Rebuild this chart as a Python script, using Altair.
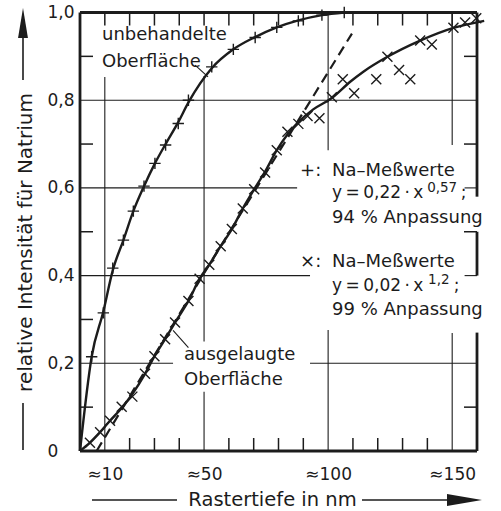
import altair as alt
import pandas as pd

FONT = "DejaVu Sans"
INK = "#1c1c1c"

# ---------------- values ----------------
# "+" measurements (unbehandelte Oberfläche)
plus_x = [4.7, 9.4, 13.2, 17.5, 21.5, 25.8, 30.2, 34.5, 39.6, 43.7, 53.1, 61.8, 70.6, 79.3, 88.0, 97.5, 106.5]
plus_y = [0.215, 0.315, 0.417, 0.481, 0.547, 0.604, 0.656, 0.698, 0.747, 0.800, 0.876, 0.916, 0.943, 0.966, 0.981, 0.994, 1.0]

# fitted curve through the "+" values
plus_fit_x = [0.0, 4.7, 9.4, 13.2, 17.5, 21.5, 25.8, 30.2, 34.5, 39.6, 43.7, 53.1, 61.8, 70.6, 79.3, 88.0, 97.5, 106.5]
plus_fit_y = [0.0, 0.215, 0.318, 0.412, 0.481, 0.547, 0.604, 0.656, 0.700, 0.750, 0.795, 0.873, 0.916, 0.944, 0.966, 0.982, 0.994, 1.0]

# "x" measurements (ausgelaugte Oberfläche)
cross_x = [4.0, 8.1, 12.1, 16.8, 21.1, 26.2, 30.0, 34.3, 38.3, 43.7, 48.2, 52.1, 56.7, 61.2, 65.6, 70.2,
           74.6, 79.3, 83.6, 88.0, 91.7, 96.5, 101.5, 105.9, 110.5, 119.4, 123.9, 128.6, 133.1, 137.1,
           141.8, 150.5, 155.2, 159.7]
cross_y = [0.019, 0.043, 0.069, 0.101, 0.124, 0.176, 0.216, 0.255, 0.293, 0.342, 0.393, 0.425, 0.467, 0.506,
           0.553, 0.597, 0.635, 0.686, 0.728, 0.746, 0.764, 0.759, 0.807, 0.848, 0.816, 0.848, 0.899, 0.869,
           0.848, 0.936, 0.927, 0.965, 0.977, 0.987]

# fitted curve through the "x" values
cross_fit_x = [0.0, 4.0, 8.1, 12.1, 16.8, 21.1, 26.2, 30.0, 34.3, 38.3, 43.7, 48.2, 52.1, 56.7, 61.2, 65.6,
               70.2, 74.6, 79.3, 83.6, 88.0, 94.0, 101.5, 108.9, 114.2, 123.9, 137.1, 150.5, 162.9]
cross_fit_y = [0.0, 0.019, 0.043, 0.069, 0.098, 0.130, 0.176, 0.216, 0.255, 0.293, 0.342, 0.393, 0.425, 0.467,
               0.506, 0.553, 0.597, 0.637, 0.686, 0.722, 0.750, 0.779, 0.805, 0.842, 0.865, 0.899, 0.936,
               0.965, 0.981]

# dashed straight fit
dash_x = [6.7, 52.1, 109.6]
dash_y = [0.0, 0.425, 0.952]

# axis label values
x_label_values = [10, 50, 100, 150]
y_label_values = [0, 0.2, 0.4, 0.6, 0.8, 1.0]
x_minor_bottom = [20, 30, 40, 60, 70, 80, 90, 110, 120, 130, 140]
x_minor_top = [10, 20, 30, 40, 50, 60, 70, 80, 90, 110, 120, 130, 140, 150]
y_minor_left = [0.1, 0.3, 0.5, 0.7, 0.9]
y_minor_right = [0.1, 0.5, 0.7, 0.9]

# texts
y_title = "relative Intensität für Natrium"
x_title = "Rastertiefe in nm"
TS = "\u2009"
ann_text = ["unbehandelte", "Oberfläche", "ausgelaugte", "Oberfläche",
            "+:", "Na–Meßwerte", f"y{TS}={TS}0,22{TS}·{TS}x", ";", "94 % Anpassung",
            "×:", "Na–Meßwerte", f"y{TS}={TS}0,02{TS}·{TS}x", ";", "99 % Anpassung"]
ann_x = [8.87, 8.87, 41.9, 41.9, 88.7, 101.6, 101.6, 153.5, 101.6, 88.7, 101.6, 101.6, 150.6, 101.6]
ann_y = [0.937, 0.876, 0.2075, 0.1505, 0.627, 0.627, 0.577, 0.577, 0.519, 0.4196, 0.4196, 0.365, 0.365, 0.310]
ann_size = [18, 18, 18, 18, 18, 18, 17, 17, 18, 18, 18, 17, 17, 18]
sup_text = ["0,57", "1,2"]
sup_x = [139.9, 140.3]
sup_y = [0.590, 0.381]

# ---------------- layout ----------------
W, H = 397, 438.5
XMAX = 160
xs = alt.Scale(domain=[0, XMAX], nice=False, zero=False)
ys = alt.Scale(domain=[0, 1], nice=False, zero=False)

XA = alt.Axis(values=x_label_values, labelExpr="'≈' + datum.value", labelFont=FONT,
              labelFontSize=17, labelColor=INK, labelPadding=15, ticks=False, tickSize=0,
              domain=False, grid=False, title=None, labelFlush=False)
YA = alt.Axis(values=y_label_values,
              labelExpr="datum.value == 0 ? '0' : replace(format(datum.value, '.1f'), '.', ',')",
              labelFont=FONT, labelFontSize=17, labelColor=INK, labelAlign="left", labelPadding=33,
              ticks=False, tickSize=0, domain=False, grid=False, title=None)


def X(f):
    return alt.X(f, scale=xs, axis=XA)


def Y(f):
    return alt.Y(f, scale=ys, axis=YA)


# gridline segments (data units)
hg = pd.DataFrame({
    "y": [0.8, 0.6, 0.6, 0.4, 0.4, 0.2, 0.2],
    "x1": [0, 0, 155, 0, 155, 0, 92.7],
    "x2": [XMAX, 87.5, XMAX, 92.7, XMAX, 37.5, XMAX],
})
vg = pd.DataFrame({
    "x": [10, 50, 50, 100, 100, 150, 150],
    "y1": [0, 0, 0.25, 0, 0.686, 0, 0.698],
    "y2": [0.853, 0.135, 0.855, 0.276, 1.0, 0.269, 1.0],
})
hgrid = alt.Chart(hg).mark_rule(stroke=INK, strokeWidth=1.1).encode(
    x=X("x1:Q"), x2="x2:Q", y=Y("y:Q"))
vgrid = alt.Chart(vg).mark_rule(stroke=INK, strokeWidth=1.1).encode(
    x=X("x:Q"), y=Y("y1:Q"), y2="y2:Q")

# frame
frame_h = pd.DataFrame({"y": [0, 1], "x1": [0, 0], "x2": [XMAX, XMAX]})
frame_v = pd.DataFrame({"x": [0, XMAX, XMAX, XMAX], "y1": [0, 0, 0.4, 0.58], "y2": [1, 0.27, 0.5, 1]})
fh = alt.Chart(frame_h).mark_rule(stroke=INK, strokeWidth=2.8).encode(
    x=X("x1:Q"), x2="x2:Q", y=Y("y:Q"))
fv = alt.Chart(frame_v).mark_rule(stroke=INK, strokeWidth=2.8).encode(
    x=X("x:Q"), y=Y("y1:Q"), y2="y2:Q")

TL = 13
t_bottom = alt.Chart(pd.DataFrame({"x": x_minor_bottom})).mark_rule(stroke=INK, strokeWidth=1.5).encode(
    x=X("x:Q"), y=alt.value(H), y2=alt.value(H - TL))
t_top = alt.Chart(pd.DataFrame({"x": x_minor_top})).mark_rule(stroke=INK, strokeWidth=1.5).encode(
    x=X("x:Q"), y=alt.value(0), y2=alt.value(TL))
t_left = alt.Chart(pd.DataFrame({"y": y_minor_left})).mark_rule(stroke=INK, strokeWidth=1.5).encode(
    y=Y("y:Q"), x=alt.value(0), x2=alt.value(TL))
t_right = alt.Chart(pd.DataFrame({"y": y_minor_right})).mark_rule(stroke=INK, strokeWidth=1.5).encode(
    y=Y("y:Q"), x=alt.value(W), x2=alt.value(W - TL))

# curves
plus_fit = alt.Chart(pd.DataFrame({"x": plus_fit_x, "y": plus_fit_y})).mark_line(
    stroke=INK, strokeWidth=2.4, interpolate="monotone").encode(x=X("x:Q"), y=Y("y:Q"))
cross_fit = alt.Chart(pd.DataFrame({"x": cross_fit_x, "y": cross_fit_y})).mark_line(
    stroke=INK, strokeWidth=2.4, interpolate="monotone").encode(x=X("x:Q"), y=Y("y:Q"))
dash_fit = alt.Chart(pd.DataFrame({"x": dash_x, "y": dash_y})).mark_line(
    stroke=INK, strokeWidth=2.2, strokeDash=[10, 6]).encode(x=X("x:Q"), y=Y("y:Q"))

PLUS = "M-1,0L1,0M0,-1L0,1"
CROSS = "M-1,-1L1,1M1,-1L-1,1"
plus_pts = alt.Chart(pd.DataFrame({"x": plus_x, "y": plus_y})).mark_point(
    shape=PLUS, filled=False, stroke=INK, strokeWidth=1.4, size=130, opacity=1).encode(
    x=X("x:Q"), y=Y("y:Q"))
cross_pts = alt.Chart(pd.DataFrame({"x": cross_x, "y": cross_y})).mark_point(
    shape=CROSS, filled=False, stroke=INK, strokeWidth=1.4, size=100, opacity=1).encode(
    x=X("x:Q"), y=Y("y:Q"))

# leader lines
lead = pd.DataFrame({"x1": [46.4, 37.5], "y1": [0.880, 0.275], "x2": [51.6, 43.7], "y2": [0.853, 0.236]})
leaders = alt.Chart(lead).mark_rule(stroke=INK, strokeWidth=1.1).encode(
    x=X("x1:Q"), y=Y("y1:Q"), x2="x2:Q", y2="y2:Q")

# annotation texts
ann = alt.Chart(pd.DataFrame({"t": ann_text, "x": ann_x, "y": ann_y, "s": ann_size})).mark_text(
    font=FONT, color=INK, align="left", baseline="alphabetic").encode(
    x=X("x:Q"), y=Y("y:Q"), text="t:N", size=alt.Size("s:Q", scale=None, legend=None))
sup = alt.Chart(pd.DataFrame({"t": sup_text, "x": sup_x, "y": sup_y})).mark_text(
    font=FONT, fontSize=13.5, color=INK, align="left", baseline="alphabetic").encode(
    x=X("x:Q"), y=Y("y:Q"), text="t:N")

# axis titles with their arrows
ytitle = alt.Chart(pd.DataFrame({"t": [y_title]})).mark_text(
    font=FONT, fontSize=20, color=INK, angle=270, align="center", baseline="alphabetic").encode(
    text="t:N", x=alt.value(-48), y=alt.value(230))
xtitle = alt.Chart(pd.DataFrame({"t": [x_title]})).mark_text(
    font=FONT, fontSize=19.5, color=INK, align="center", baseline="alphabetic").encode(
    text="t:N", x=alt.value(192.5), y=alt.value(493.5))
yline1 = alt.Chart(pd.DataFrame({"a": [0]})).mark_rule(stroke=INK, strokeWidth=1.6).encode(
    x=alt.value(-57), y=alt.value(390.5), y2=alt.value(437.5))
yline2 = alt.Chart(pd.DataFrame({"a": [0]})).mark_rule(stroke=INK, strokeWidth=1.6).encode(
    x=alt.value(-57), y=alt.value(67.5), y2=alt.value(20))
yarrow = alt.Chart(pd.DataFrame({"a": [0]})).mark_point(
    shape="M0,-1L0.33,1L-0.33,1Z", filled=True, fill=INK, strokeWidth=0, size=900, opacity=1).encode(
    x=alt.value(-57), y=alt.value(10.5))
xline1 = alt.Chart(pd.DataFrame({"a": [0]})).mark_rule(stroke=INK, strokeWidth=1.6).encode(
    x=alt.value(12), x2=alt.value(97), y=alt.value(487.5))
xline2 = alt.Chart(pd.DataFrame({"a": [0]})).mark_rule(stroke=INK, strokeWidth=1.6).encode(
    x=alt.value(282), x2=alt.value(372), y=alt.value(487.5))
xarrow = alt.Chart(pd.DataFrame({"a": [0]})).mark_point(
    shape="M1,0L-1,-0.34L-1,0.34Z", filled=True, fill=INK, strokeWidth=0, size=1225, opacity=1).encode(
    x=alt.value(384.5), y=alt.value(487.5))

chart = alt.layer(
    hgrid, vgrid, fh, fv, t_bottom, t_top, t_left, t_right,
    dash_fit, plus_fit, cross_fit, plus_pts, cross_pts, leaders,
    ann, sup, ytitle, xtitle, yline1, yline2, yarrow, xline1, xline2, xarrow,
).properties(
    width=W, height=H,
    autosize=alt.AutoSizeParams(type="none"),
    padding={"left": 80, "top": 12.5, "right": 24, "bottom": 60},
    background="white",
).configure_view(strokeWidth=0)

chart.save("out.html", embed_options={"renderer": "svg", "actions": False})
